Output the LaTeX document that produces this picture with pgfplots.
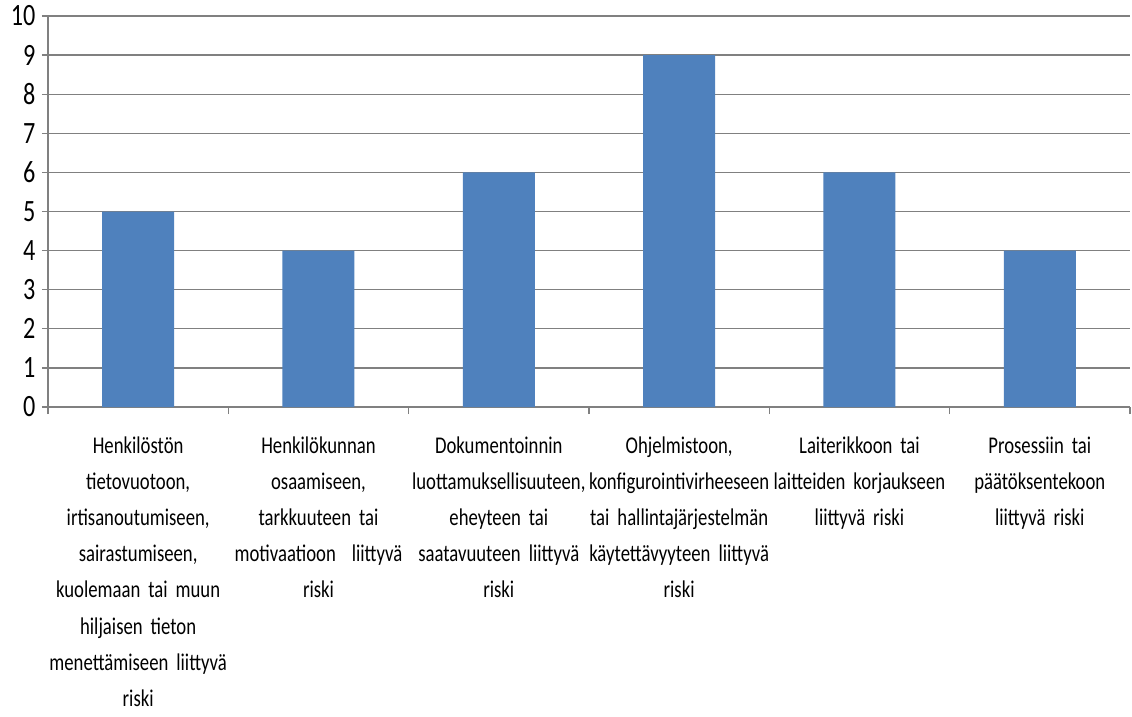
\documentclass[border=0pt]{standalone}
\usepackage{pgfplots}
\pgfplotsset{compat=1.18}
\usepackage{fontspec}
\setmainfont[FakeStretch=0.78, WordSpace=0.7]{Carlito}
\definecolor{barblue}{HTML}{4F81BD}
\definecolor{gridgrey}{HTML}{808080}
\begin{document}
\begin{tikzpicture}
\useasboundingbox (-48bp,-310bp) rectangle (1084bp,407bp);
\begin{axis}[
  scale only axis,
  width=1082bp, height=391bp,
  xmin=-0.5, xmax=5.5,
  ymin=0, ymax=10,
  ytick={0,1,...,10},
  xtick={0,1,2,3,4,5},
  minor xtick={-0.5,0.5,1.5,2.5,3.5,4.5,5.5},
  axis lines*=left,
  axis line style={gridgrey, line width=1.3bp},
  ymajorgrids,
  major grid style={gridgrey, line width=1.3bp},
  tick align=outside,
  major tick length=6bp,
  minor tick length=7bp,
  major x tick style={draw=none},
  minor x tick style={draw=gridgrey, line width=1.3bp},
  y tick style={gridgrey, line width=1.3bp},
  /pgf/number format/assume math mode=true,
  yticklabel style={font=\fontsize{31bp}{34bp}\selectfont, xshift=-3bp},
  xticklabel style={font=\fontsize{24bp}{36.2bp}\selectfont,
    align=center, text width=200bp, yshift=-20bp},
  xticklabels={
    {Henkilöstön\\tietovuotoon,\\irtisanoutumiseen,\\sairastumiseen,\\kuolemaan tai muun\\hiljaisen tieton\\menettämiseen liittyvä\\riski},
    {Henkilökunnan\\osaamiseen,\\tarkkuuteen tai\\motivaatioon\ \ liittyvä\\riski},
    {Dokumentoinnin\\luottamuksellisuuteen,\\eheyteen tai\\saatavuuteen liittyvä\\riski},
    {Ohjelmistoon,\\konfigurointivirheeseen\\tai hallintajärjestelmän\\käytettävyyteen liittyvä\\riski},
    {Laiterikkoon tai\\laitteiden korjaukseen\\liittyvä riski},
    {Prosessiin tai\\päätöksentekoon\\liittyvä riski}
  },
]
\addplot[ybar, bar width=72bp, fill=barblue, draw=none]
  coordinates {(0,5) (1,4) (2,6) (3,9) (4,6) (5,4)};
\end{axis}
\end{tikzpicture}
\end{document}
